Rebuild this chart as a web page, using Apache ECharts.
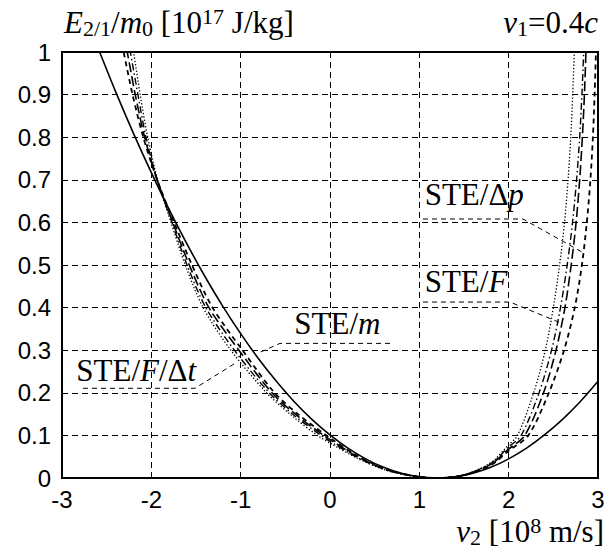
<!DOCTYPE html>
<html><head><meta charset="utf-8">
<script src="https://cdn.jsdelivr.net/npm/echarts@6/dist/echarts.min.js"></script>
<style>html,body{margin:0;padding:0;background:#fff}#c{width:612px;height:549px}</style>
</head><body><div id="c"></div>
<script>
// ---- data ----
const xTicks = [-3, -2, -1, 0, 1, 2, 3];
const yTicks = [0, 0.1, 0.2, 0.3, 0.4, 0.5, 0.6, 0.7, 0.8, 0.9, 1];

// STE/m (solid)
const steM = [[-2.7,1.065],[-2.575,0.998],[-2.4,0.907],[-2.2,0.809],[-2.0,0.717],[-1.8,0.63],[-1.6,0.549],[-1.4,0.473],[-1.2,0.403],[-1.0,0.339],[-0.8,0.28],[-0.6,0.227],[-0.4,0.179],[-0.2,0.137],[0,0.101],[0.2,0.07],[0.4,0.045],[0.6,0.025],[0.8,0.011],[1.0,0.003],[1.2,0],[1.4,0.003],[1.6,0.011],[1.8,0.025],[2.0,0.045],[2.2,0.07],[2.4,0.101],[2.6,0.137],[2.8,0.179],[3.0,0.227]];
// STE/F/Δt (dotted)
const steFdt = [[-2.24,1.04],[-2.20,1.0],[-2.125,0.9],[-2.04,0.8],[-1.93,0.7],[-1.78,0.6],[-1.62,0.5],[-1.42,0.4],[-1.11,0.3],[-0.71,0.2],[-0.42,0.145],[-0.14,0.1],[0,0.082],[0.3,0.047],[0.6,0.02],[0.9,0.005],[1.2,0],[1.5,0.0075],[1.8,0.036],[2.0,0.078],[2.1,0.1],[2.28,0.2],[2.41,0.3],[2.50,0.4],[2.57,0.5],[2.625,0.6],[2.665,0.7],[2.695,0.8],[2.717,0.9],[2.735,1.0],[2.745,1.05]];
// dash-dot curve
const steDD = [[-2.27,1.04],[-2.235,1.0],[-2.15,0.9],[-2.06,0.8],[-1.935,0.7],[-1.77,0.6],[-1.60,0.5],[-1.39,0.4],[-1.07,0.3],[-0.68,0.2],[-0.39,0.145],[-0.10,0.1],[0,0.086],[0.3,0.049],[0.6,0.021],[0.9,0.0055],[1.2,0],[1.5,0.007],[1.8,0.034],[2.0,0.073],[2.14,0.1],[2.34,0.2],[2.48,0.3],[2.58,0.4],[2.655,0.5],[2.715,0.6],[2.76,0.7],[2.795,0.8],[2.82,0.9],[2.84,1.0],[2.85,1.05]];
// STE/F (long dash)
const steF = [[-2.31,1.04],[-2.27,1.0],[-2.18,0.9],[-2.075,0.8],[-1.935,0.7],[-1.76,0.6],[-1.575,0.5],[-1.355,0.4],[-1.02,0.3],[-0.65,0.2],[-0.36,0.145],[-0.07,0.1],[0,0.09],[0.3,0.051],[0.6,0.022],[0.9,0.006],[1.2,0],[1.5,0.007],[1.8,0.032],[2.0,0.068],[2.18,0.1],[2.39,0.2],[2.53,0.3],[2.63,0.4],[2.70,0.5],[2.755,0.6],[2.795,0.7],[2.825,0.8],[2.848,0.9],[2.865,1.0],[2.872,1.05]];
// STE/Δp (short dash)
const steDp = [[-2.35,1.04],[-2.31,1.0],[-2.21,0.9],[-2.09,0.8],[-1.935,0.7],[-1.745,0.6],[-1.545,0.5],[-1.315,0.4],[-0.98,0.3],[-0.62,0.2],[-0.33,0.145],[-0.04,0.1],[0,0.094],[0.3,0.053],[0.6,0.023],[0.9,0.006],[1.2,0],[1.5,0.0065],[1.8,0.03],[2.0,0.064],[2.22,0.1],[2.45,0.2],[2.62,0.3],[2.74,0.4],[2.82,0.5],[2.875,0.6],[2.915,0.7],[2.943,0.8],[2.962,0.9],[2.977,1.0],[2.983,1.05]];

// annotation leader lines (data coordinates)
const leaderDp  = [[1.041,0.608],[2.160,0.608],[2.821,0.5305]];
const leaderF   = [[1.041,0.413],[2.015,0.413],[2.594,0.363]];
const leaderM   = [[0.672,0.316],[-0.560,0.316],[-0.806,0.293]];
const leaderFdt = [[-2.765,0.2106],[-1.511,0.2106],[-1.041,0.272]];
// label anchors: [x, baseline y] in data coordinates
const labelDp  = [1.06, 0.641];
const labelF   = [1.06, 0.437];
const labelM   = [-0.40, 0.340];
const labelFdt = [-2.84, 0.230];

const K = '#000';
const SERIF = 'Liberation Serif';
function curve(name, data, type, width) {
  return {name, type:'line', data, smooth:0.3, symbol:'none', clip:true, silent:true,
    lineStyle:{color:K, width, type, cap:'butt'}, z:3};
}
function leader(data) {
  return {type:'line', data, smooth:false, symbol:'none', clip:false, silent:true,
    lineStyle:{color:K, width:1, type:[5,4]}, z:2};
}

const chart = echarts.init(document.getElementById('c'), null, {renderer:'svg'});
chart.setOption({
  animation:false,
  backgroundColor:'#fff',
  grid:{left:62, right:14, top:52, bottom:71, show:true, borderColor:K, borderWidth:2, backgroundColor:'transparent'},
  xAxis:{type:'value', min:xTicks[0], max:xTicks[xTicks.length-1], interval:1,
    axisLine:{show:true, onZero:false, lineStyle:{color:K, width:2}}, axisTick:{show:false},
    axisLabel:{color:K, fontFamily:'Liberation Sans', fontSize:24, margin:9},
    splitLine:{show:true, lineStyle:{color:K, width:1, type:[6,4]}}},
  yAxis:{type:'value', min:yTicks[0], max:yTicks[yTicks.length-1], interval:0.1,
    axisLine:{show:true, onZero:false, lineStyle:{color:K, width:2}}, axisTick:{show:false},
    axisLabel:{color:K, fontFamily:'Liberation Sans', fontSize:24, margin:11,
      formatter:v => String(Math.round(v*10)/10)},
    splitLine:{show:true, lineStyle:{color:K, width:1, type:[6,4]}}},
  series:[
    curve('STE/m', steM, 'solid', 1.6),
    curve('STE/F/Δt', steFdt, [1.3,2], 1.3),
    curve('dashdot', steDD, [7,3,1.5,3], 1.4),
    curve('STE/F', steF, [10,4], 1.6),
    curve('STE/Δp', steDp, [5,4], 1.8),
    leader(leaderDp), leader(leaderF), leader(leaderM), leader(leaderFdt)
  ]
});

const F = 31;
const richLab = {
  n:{fontFamily:SERIF, fontSize:F, lineHeight:34, color:K, fill:K},
  i:{fontFamily:SERIF, fontSize:F, fontStyle:'italic', lineHeight:34, color:K, fill:K}
};
const labs = [
  [labelDp, '{n|STE/Δ}{i|p}'],
  [labelF, '{n|STE/}{i|F}'],
  [labelM, '{n|STE/}{i|m}'],
  [labelFdt, '{n|STE/}{i|F}{n|/Δ}{i|t}']
];
const T = 31, S = 22;
const richTitle = {
  n:{fontFamily:SERIF, fontSize:T, lineHeight:34, fill:K, color:K},
  i:{fontFamily:SERIF, fontSize:T, fontStyle:'italic', lineHeight:34, fill:K, color:K},
  sub:{fontFamily:SERIF, fontSize:S, lineHeight:17, verticalAlign:'bottom', fill:K, color:K},
  sup:{fontFamily:SERIF, fontSize:S, lineHeight:17, verticalAlign:'top', fill:K, color:K}
};
const graphics = labs.map(([pos, txt]) => {
  const p = chart.convertToPixel({gridIndex:0}, pos);
  return {type:'text', x:p[0], y:p[1] - 10, z:10,
    style:{text:txt, rich:richLab, align:'left', verticalAlign:'middle', fill:K}};
});
graphics.push({type:'text', x:64, y:22, z:10,
  style:{text:'{i|E}{sub|2/1}{n|/}{i|m}{sub|0}{n| [10}{sup|17}{n| J/kg]}', rich:richTitle, align:'left', verticalAlign:'middle', fill:K}});
graphics.push({type:'text', x:598, y:22, z:10,
  style:{text:'{i|v}{sub|1}{n|=0.4}{i|c}', rich:richTitle, align:'right', verticalAlign:'middle', fill:K}});
graphics.push({type:'text', x:604, y:531, z:10,
  style:{text:'{i|v}{sub|2}{n| [10}{sup|8}{n| m/s]}', rich:richTitle, align:'right', verticalAlign:'middle', fill:K}});
chart.setOption({graphic:graphics});
</script></body></html>
